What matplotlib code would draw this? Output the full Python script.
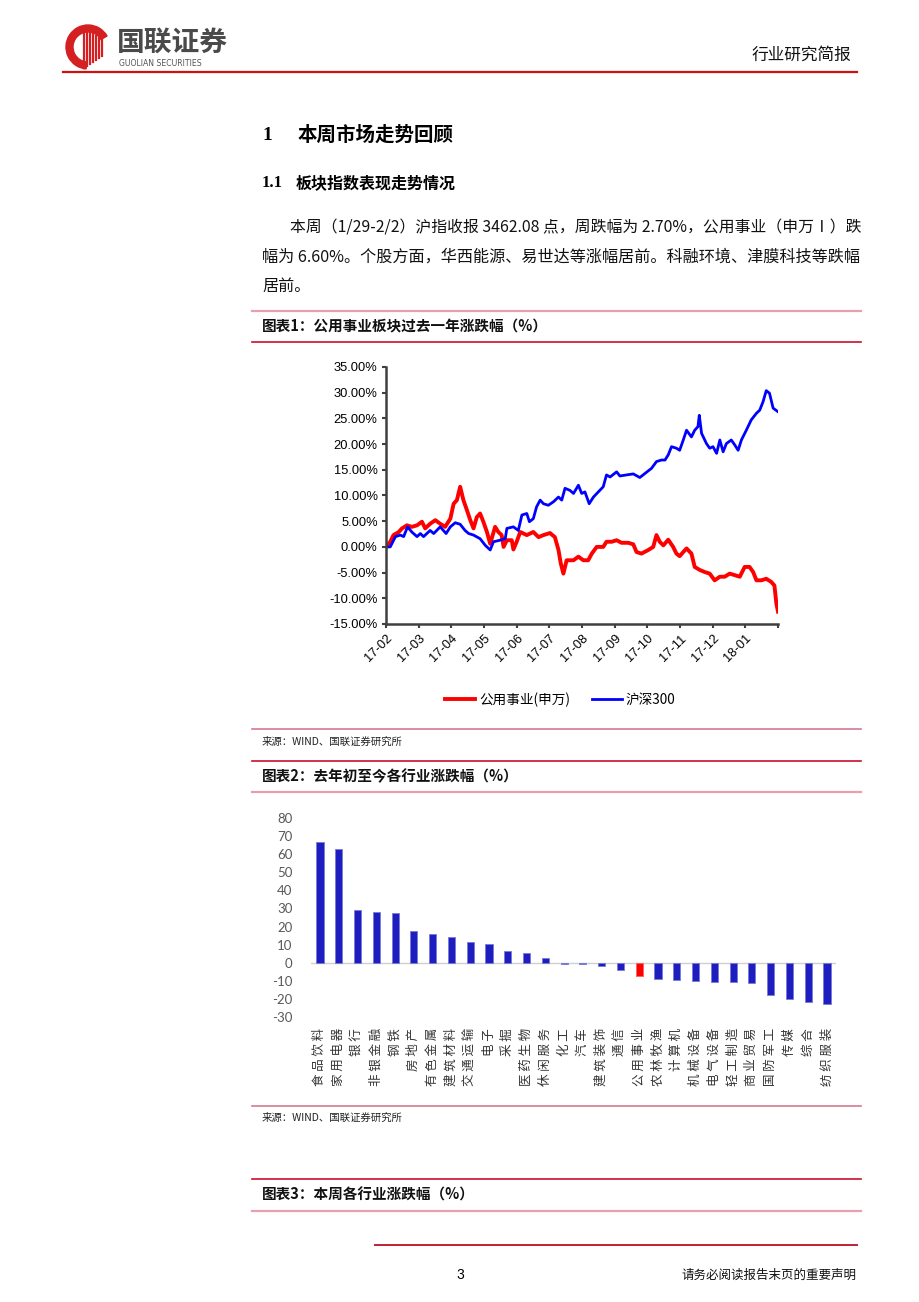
import matplotlib
matplotlib.use("Agg")
import matplotlib.pyplot as plt
from matplotlib import patches

plt.rcParams['font.family'] = ['Noto Sans CJK SC', 'DejaVu Sans']
plt.rcParams['axes.unicode_minus'] = False

# 图表1: 公用事业(申万) vs 沪深300, x in months since 2017-02
util_t = [0, 0.13, 0.23, 0.39, 0.49, 0.64, 0.79, 0.95, 1.10, 1.20, 1.35, 1.51, 1.66, 1.81,
          1.97, 2.07, 2.17, 2.27, 2.37, 2.48, 2.58, 2.68, 2.78, 2.88, 2.98, 3.09, 3.19,
          3.34, 3.44, 3.54, 3.60, 3.70, 3.85, 3.90, 4.00, 4.11, 4.31, 4.51, 4.67, 4.82,
          5.02, 5.17, 5.28, 5.35, 5.43, 5.53, 5.74, 5.89, 6.04, 6.19, 6.30, 6.45, 6.65,
          6.75, 6.91, 7.06, 7.21, 7.42, 7.57, 7.67, 7.82, 8.03, 8.18, 8.28, 8.38, 8.49,
          8.64, 8.79, 8.89, 8.99, 9.10, 9.20, 9.35, 9.45, 9.61, 9.76, 9.91, 10.06, 10.22,
          10.37, 10.52, 10.68, 10.83, 10.98, 11.13, 11.24, 11.34, 11.49, 11.64, 11.79,
          11.89, 11.95, 12.00]
util_v = [0, 1.0, 2.3, 2.9, 3.6, 4.2, 3.9, 4.2, 4.9, 3.6, 4.5, 5.2, 4.5, 3.9,
          5.5, 8.4, 9.1, 11.7, 9.1, 7.1, 5.2, 3.6, 5.8, 6.5, 4.9, 2.9, 0.6,
          3.9, 2.9, 2.3, 0.0, 1.3, 1.3, -0.5, 1.0, 2.9, 2.3, 2.9, 1.9, 2.3,
          2.7, 1.9, -0.6, -3.2, -5.2, -2.6, -2.6, -1.9, -2.6, -2.6, -1.3, 0.0, 0.0,
          1.0, 1.0, 1.3, 0.8, 0.8, 0.5, -1.0, -1.3, -0.6, 0.0, 2.3, 1.0, 0.3,
          1.4, 0.0, -1.3, -1.8, -1.0, -0.3, -1.3, -3.9, -4.5, -4.9, -5.2, -6.5, -5.8,
          -5.8, -5.2, -5.5, -5.8, -3.9, -3.9, -4.9, -6.5, -6.5, -6.2, -6.8,
          -7.5, -11.0, -12.6]

hs300_t = [0, 0.13, 0.29, 0.44, 0.54, 0.66, 0.79, 0.95, 1.05, 1.15, 1.35, 1.46, 1.66, 1.84,
           1.97, 2.12, 2.27, 2.42, 2.53, 2.68, 2.88, 3.04, 3.19, 3.29, 3.49, 3.65, 3.70,
           3.90, 4.05, 4.16, 4.31, 4.39, 4.51, 4.61, 4.72, 4.82, 4.97, 5.13, 5.28, 5.38,
           5.48, 5.63, 5.74, 5.89, 5.99, 6.09, 6.22, 6.35, 6.50, 6.65, 6.75, 6.86, 7.06,
           7.16, 7.36, 7.57, 7.77, 7.93, 8.13, 8.28, 8.43, 8.54, 8.64, 8.74, 8.89, 8.99,
           9.10, 9.20, 9.35, 9.45, 9.55, 9.59, 9.66, 9.81, 9.91, 10.01, 10.12, 10.22,
           10.32, 10.42, 10.57, 10.68, 10.78, 10.88, 11.03, 11.18, 11.34, 11.44, 11.54,
           11.64, 11.74, 11.85, 12.00]
hs300_v = [0, 0.0, 2.0, 2.3, 2.0, 3.9, 2.9, 2.0, 2.6, 2.0, 3.2, 2.6, 3.9, 2.6,
           3.9, 4.7, 4.4, 3.2, 2.6, 2.3, 1.6, 0.3, -0.6, 1.0, 1.3, 1.6, 3.6,
           3.9, 3.2, 6.2, 6.5, 4.9, 5.5, 7.8, 9.1, 8.4, 8.1, 8.8, 9.7, 9.1,
           11.4, 11.0, 10.4, 12.0, 10.4, 10.7, 8.4, 9.7, 10.7, 11.7, 14.0, 13.6, 14.6,
           13.8, 14.0, 14.2, 13.5, 14.3, 15.3, 16.6, 16.9, 16.9, 17.9, 19.5, 19.2, 18.8,
           20.8, 22.7, 21.4, 22.7, 23.4, 25.6, 22.1, 20.1, 19.2, 19.5, 18.2, 20.8,
           18.5, 20.1, 20.8, 19.8, 18.8, 20.8, 22.7, 24.7, 26.0, 26.6, 28.2,
           30.4, 29.9, 27.0, 26.3]

month_labels = ["17-02", "17-03", "17-04", "17-05", "17-06", "17-07", "17-08",
                "17-09", "17-10", "17-11", "17-12", "18-01"]

# 图表2: 去年初至今各行业涨跌幅
industries = ["食品饮料", "家用电器", "银行", "非银金融", "钢铁", "房地产", "有色金属",
              "建筑材料", "交通运输", "电子", "采掘", "医药生物", "休闲服务", "化工",
              "汽车", "建筑装饰", "通信", "公用事业", "农林牧渔", "计算机", "机械设备",
              "电气设备", "轻工制造", "商业贸易", "国防军工", "传媒", "综合", "纺织服装"]
ytd_change = [66.5, 63.0, 28.9, 28.2, 27.5, 17.7, 16.0, 14.2, 11.4, 10.1, 6.6, 5.3, 2.6,
              -0.9, -0.9, -1.7, -4.1, -7.6, -9.2, -9.8, -10.3, -10.5, -10.7, -11.1,
              -17.9, -20.3, -21.9, -22.9]

W, H = 920, 1302
fig = plt.figure(figsize=(W / 100, H / 100), dpi=100)

# page overlay in pixel coordinates
pg = fig.add_axes([0, 0, 1, 1])
pg.set_xlim(0, W)
pg.set_ylim(H, 0)
pg.axis('off')

red = '#c8102e'
pink = '#e8a0b0'

# logo
pg.add_patch(patches.Wedge((88, 47), 22, 95, 330, width=7, color='#d42020'))
for i, xx in enumerate(range(84, 104, 3)):
    pg.plot([xx, xx], [68 - 2 * i, 28 + i * 2], color='#d42020', lw=1.6)
pg.text(117, 43, "国联证券", fontsize=20, fontweight='bold', color='#4a4a4a', va='center')
pg.text(119, 63, "GUOLIAN SECURITIES", fontsize=5.6, color='#555555', va='center',
        family='DejaVu Sans')
pg.text(851, 55, "行业研究简报", fontsize=12, ha='right', va='center', color='#111111')
pg.plot([63, 857], [72, 72], color='#d01010', lw=1.6)

pg.text(262, 135, "1", fontsize=14, fontweight='bold', va='center', family='Liberation Serif')
pg.text(298, 135, "本周市场走势回顾", fontsize=14, fontweight='bold', va='center')
pg.text(262, 183, "1.1", fontsize=12, fontweight='bold', va='center', family='Liberation Serif')
pg.text(296, 183, "板块指数表现走势情况", fontsize=11.5, fontweight='bold', va='center')

para = ["本周（1/29-2/2）沪指收报 3462.08 点，周跌幅为 2.70%，公用事业（申万Ⅰ）跌",
        "幅为 6.60%。个股方面，华西能源、易世达等涨幅居前。科融环境、津膜科技等跌幅",
        "居前。"]
pg.text(290, 228, para[0], fontsize=11.4, va='center', color='#111111')
pg.text(262, 257, para[1], fontsize=11.6, va='center', color='#111111')
pg.text(262, 286, para[2], fontsize=11.6, va='center', color='#111111')


def chart_title(y_top, y_bot, text, top_solid):
    pg.plot([252, 861], [y_top, y_top], color=red if top_solid else pink,
            lw=1.2 if top_solid else 1.6, ls='-')
    pg.plot([252, 861], [y_bot, y_bot], color=pink if top_solid else red,
            lw=1.6 if top_solid else 1.2, ls='-')
    pg.text(262, (y_top + y_bot) / 2, text, fontsize=10.5, fontweight='bold',
            style='italic', va='center', color='#111111')


def source(y_line, y_text):
    pg.plot([252, 861], [y_line, y_line], color='#d87890', lw=1.2)
    pg.text(262, y_text, "来源：WIND、国联证券研究所", fontsize=7.5, va='center', color='#222222')


chart_title(311, 342, "图表1：公用事业板块过去一年涨跌幅（%）", False)
source(729, 742)
chart_title(761, 792, "图表2：去年初至今各行业涨跌幅（%）", True)
source(1106, 1118)
chart_title(1179, 1211, "图表3：本周各行业涨跌幅（%）", True)

pg.plot([375, 857], [1245, 1245], color='#c02030', lw=1.4)
pg.text(460, 1275, "3", fontsize=10, ha='center', va='center', family='Liberation Sans')
pg.text(857, 1275, "请务必阅读报告末页的重要声明", fontsize=9, ha='right', va='center',
        color='#111111')

# chart 1
ax1 = fig.add_axes([386 / W, 1 - 624 / H, 392 / W, 257 / H])
ax1.plot(util_t, util_v, color='#ff0000', lw=2.8, label="公用事业(申万)")
ax1.plot(hs300_t, hs300_v, color='#0000ff', lw=2.0, label="沪深300")
ax1.set_xlim(0, 12)
ax1.set_ylim(-15, 35)
ax1.set_yticks(range(-15, 36, 5))
ax1.set_yticklabels([f"{v:.2f}%" for v in range(-15, 36, 5)],
                    fontsize=9.3, family='Liberation Sans')
ax1.set_xticks(range(0, 13))
ax1.set_xticklabels(month_labels + [""], rotation=45, ha='right',
                    rotation_mode='anchor', fontsize=9.3, family='Liberation Sans')
for s in ['top', 'right']:
    ax1.spines[s].set_visible(False)
for s in ['left', 'bottom']:
    ax1.spines[s].set_color('#404040')
    ax1.spines[s].set_linewidth(1.8)
ax1.tick_params(length=3, width=1.5, color='#404040', pad=3)
ax1.patch.set_alpha(0)
ax1.legend(loc='center', bbox_to_anchor=(0.445, -0.295), ncol=2, frameon=False,
           fontsize=9.8, handlelength=2.2, columnspacing=1.6, handletextpad=0.3)

# chart 2
ax2 = fig.add_axes([310.6 / W, 1 - 1017 / H, 525.8 / W, 199 / H])
colors = ['#ff0000' if n == "公用事业" else '#1e1ec0' for n in industries]
ax2.bar(range(len(industries)), ytd_change, width=0.38, color=colors,
        edgecolor=['#ff6060' if n == "公用事业" else '#7a7ad8' for n in industries],
        linewidth=0.6, zorder=3)
ax2.axhline(0, color='#d0d0d0', lw=1.0, zorder=2)
ax2.set_xlim(-0.5, len(industries) - 0.5)
ax2.set_ylim(-30, 80)
ax2.set_yticks(range(-30, 81, 10))
ax2.tick_params(axis='y', length=0, labelsize=9.5, labelcolor='#595959', pad=13)
for lab in ax2.get_yticklabels():
    lab.set_family('Lato')
ax2.set_xticks(range(len(industries)))
ax2.set_xticklabels([" ".join(n) for n in industries], rotation=90, fontsize=9,
                    color='#333333', va='top')
ax2.tick_params(axis='x', length=0, pad=8)
for s in ax2.spines.values():
    s.set_visible(False)
ax2.patch.set_alpha(0)

fig.savefig("out.png", dpi=100)
